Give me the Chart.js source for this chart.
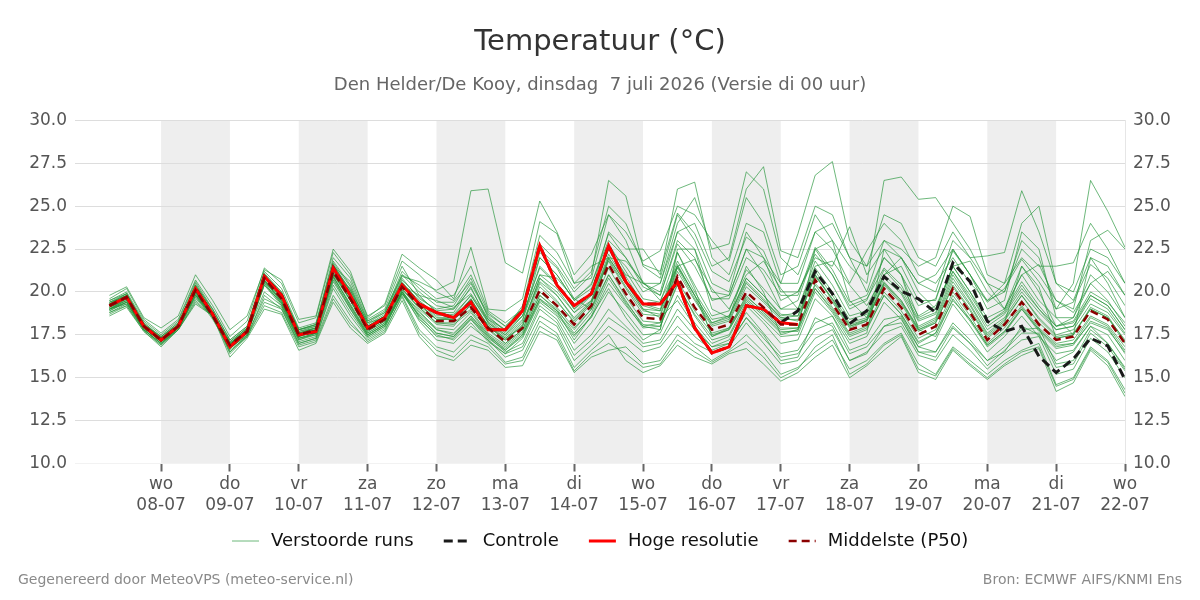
<!DOCTYPE html>
<html>
<head>
<meta charset="utf-8">
<title>Temperatuur</title>
<script src="https://cdn.jsdelivr.net/npm/chart.js@4.4.1/dist/chart.umd.min.js"></script>
<style>
  html, body { margin: 0; padding: 0; background: #fff; }
  #wrap { width: 1200px; height: 600px; }
</style>
</head>
<body>
<div id="wrap"><canvas id="tempChart" width="1200" height="600"></canvas></div>
<script>
/******************** DATA ******************/
// uren t.o.v. 08-07 00 uur, elke 6 uur vanaf 07-07 06 uur
const stepHours = [];
for (let h = -18; h <= 336; h += 6) stepHours.push(h);

const dayHours = [0, 24, 48, 72, 96, 120, 144, 168, 192, 216, 240, 264, 288, 312, 336];
const dayNames = ['wo', 'do', 'vr', 'za', 'zo', 'ma', 'di', 'wo', 'do', 'vr', 'za', 'zo', 'ma', 'di', 'wo'];
const dayDates = ['08-07', '09-07', '10-07', '11-07', '12-07', '13-07', '14-07', '15-07', '16-07', '17-07', '18-07', '19-07', '20-07', '21-07', '22-07'];
const shadedDays = [0, 48, 96, 144, 192, 240, 288];

const yTicks = [10, 12.5, 15, 17.5, 20, 22.5, 25, 27.5, 30];

const control = [19.2, 19.7, 18.0, 17.2, 18.0, 20.2, 18.7, 16.8, 17.7, 20.9,
  19.8, 17.5, 17.7, 21.4, 19.8, 17.9, 18.5, 20.4, 19.3, 18.8,
  18.5, 19.4, 17.8, 17.8, 18.9, 22.7, 20.4, 19.2, 19.9, 22.7,
  20.6, 19.3, 19.3, 20.6, 17.9, 16.45, 16.8, 19.2, 19.0, 18.2,
  18.9, 21.2, 19.9, 18.15, 18.9, 20.9, 20.05, 19.6, 18.8, 21.7,
  20.6, 18.3, 17.7, 18.0, 16.25, 15.3, 16.1, 17.3, 16.85, 14.9];

const hires = [19.2, 19.7, 18.0, 17.2, 18.0, 20.2, 18.7, 16.8, 17.7, 20.9,
  19.8, 17.5, 17.7, 21.4, 19.8, 17.9, 18.5, 20.4, 19.3, 18.8,
  18.5, 19.4, 17.8, 17.8, 18.9, 22.7, 20.4, 19.2, 19.9, 22.7,
  20.6, 19.3, 19.3, 20.6, 17.9, 16.45, 16.8, 19.2, 19.0, 18.2,
  18.1];

const median = [19.2, 19.7, 18.0, 17.2, 18.0, 20.1, 18.6, 16.9, 17.7, 20.8,
  19.6, 17.5, 17.8, 21.2, 19.6, 17.8, 18.4, 20.3, 19.2, 18.3,
  18.3, 19.1, 17.9, 17.1, 17.9, 20.1, 19.2, 18.1, 19.2, 21.6,
  19.9, 18.5, 18.4, 20.9, 19.1, 17.8, 18.1, 20.0, 19.1, 18.1,
  18.1, 20.7, 19.3, 17.8, 18.1, 20.2, 19.1, 17.5, 18.0, 20.2,
  18.8, 17.2, 18.1, 19.4, 18.1, 17.2, 17.4, 18.9, 18.4, 17.0];

const run01 = [19.5, 20.0, 18.3, 17.5, 18.3, 20.6, 19.0, 17.2, 18.0, 21.2,
  20.2, 17.9, 18.2, 21.8, 20.4, 18.3, 18.9, 21.0, 20.4, 19.6,
  19.8, 21.5, 18.9, 18.2, 19.0, 22.5, 21.5, 20.0, 21.0, 26.5,
  25.6, 21.5, 20.8, 24.5, 23.0, 20.5, 20.0, 23.5, 22.0, 19.5,
  20.0, 22.0, 21.5, 23.8, 21.0, 22.5, 22.0, 20.5, 21.0, 22.5,
  21.0, 19.5, 20.0, 23.0, 22.0, 19.0, 20.5, 26.5, 24.7, 22.6];
const run02 = [19.0, 19.6, 18.1, 17.4, 18.2, 20.3, 18.8, 17.0, 17.8, 21.0,
  20.0, 17.8, 18.1, 22.0, 20.8, 18.4, 19.0, 21.5, 19.8, 18.8,
  18.8, 20.3, 18.2, 17.5, 18.6, 21.5, 20.5, 19.0, 20.0, 23.5,
  22.5, 22.5, 21.0, 26.0, 26.4, 22.0, 21.0, 24.0, 23.5, 20.5,
  20.5, 23.5, 22.5, 20.5, 22.4, 24.0, 23.0, 21.0, 20.5, 22.0,
  20.5, 19.5, 20.5, 24.0, 25.0, 20.5, 19.5, 22.0, 21.5, 19.8];
const run03 = [19.4, 19.8, 18.0, 17.3, 18.1, 20.2, 18.7, 17.1, 17.9, 20.9,
  19.8, 17.7, 18.0, 21.6, 20.0, 18.0, 18.6, 20.8, 19.6, 19.0,
  19.2, 20.8, 18.5, 17.8, 19.2, 23.3, 22.3, 20.5, 20.8, 24.5,
  23.5, 21.8, 22.4, 25.0, 24.5, 23.0, 21.8, 25.5, 24.0, 21.0,
  21.5, 24.5, 23.0, 21.5, 20.5, 26.5, 26.7, 25.4, 25.5, 24.0,
  22.5, 20.5, 19.0, 21.5, 20.0, 18.0, 18.5, 21.0, 20.0, 18.5];
const run04 = [19.1, 19.5, 17.9, 17.2, 18.0, 20.0, 18.6, 16.9, 17.8, 20.7,
  19.4, 17.4, 17.7, 21.0, 19.7, 17.9, 18.5, 20.5, 19.5, 18.7,
  18.6, 19.8, 18.2, 17.4, 18.3, 22.0, 21.0, 19.5, 20.2, 22.5,
  21.5, 20.0, 20.5, 24.0, 25.5, 22.5, 22.8, 27.0, 26.0, 22.0,
  21.0, 23.5, 24.0, 22.0, 20.0, 23.0, 22.5, 21.5, 22.0, 25.0,
  24.4, 21.0, 20.5, 22.0, 21.0, 19.5, 19.0, 23.0, 23.6, 22.5];
const run05 = [19.3, 19.9, 18.2, 17.3, 18.1, 20.5, 18.9, 17.0, 17.7, 20.6,
  19.7, 17.6, 17.9, 21.4, 19.9, 18.0, 18.6, 20.6, 19.4, 18.5,
  18.5, 19.6, 18.0, 17.3, 18.0, 20.8, 20.0, 18.8, 19.5, 22.5,
  21.0, 20.5, 20.0, 23.5, 24.0, 21.5, 22.0, 26.0, 27.3, 22.4,
  22.0, 25.0, 24.5, 22.0, 21.5, 23.0, 22.0, 20.5, 20.0, 23.0,
  22.0, 22.1, 22.3, 25.9, 23.5, 20.5, 20.0, 22.5, 22.0, 20.5];
const run06 = [19.6, 20.2, 18.4, 17.6, 18.4, 20.7, 19.2, 17.4, 18.3, 21.4,
  20.5, 18.2, 18.5, 22.3, 21.0, 18.6, 19.2, 21.8, 21.0, 20.0,
  19.5, 21.0, 18.8, 18.0, 19.0, 22.0, 21.0, 19.5, 20.5, 23.0,
  22.0, 20.5, 20.5, 23.5, 22.5, 20.0, 19.8, 22.5, 22.0, 20.5,
  23.4, 26.8, 27.6, 23.0, 21.5, 24.5, 24.0, 22.0, 21.5, 23.5,
  22.0, 20.5, 20.0, 22.5, 21.5, 21.5, 21.7, 24.0, 22.5, 20.5];
const run07 = [19.0, 19.5, 17.8, 17.0, 17.9, 19.9, 18.5, 16.7, 17.5, 20.5,
  19.3, 17.2, 17.6, 20.9, 19.3, 17.6, 18.2, 20.0, 18.8, 17.9,
  17.8, 18.8, 17.5, 16.8, 17.6, 19.8, 19.0, 17.6, 18.8, 21.0,
  19.5, 18.0, 18.2, 21.5, 19.8, 17.5, 17.8, 19.5, 18.6, 17.6,
  17.8, 20.2, 19.0, 17.5, 17.9, 19.8, 18.7, 17.0, 17.6, 19.5,
  18.4, 16.9, 17.7, 19.0, 17.8, 16.9, 17.0, 18.2, 17.8, 16.5];
const run08 = [19.3, 19.8, 18.1, 17.3, 18.0, 20.2, 18.7, 16.8, 17.6, 20.9,
  19.7, 17.6, 17.9, 21.3, 19.5, 17.7, 18.3, 20.2, 19.0, 18.1,
  18.0, 19.3, 18.1, 17.3, 18.2, 20.6, 19.8, 18.5, 19.5, 22.0,
  20.5, 19.2, 18.9, 21.5, 19.8, 18.2, 18.5, 20.8, 19.8, 18.7,
  18.6, 21.2, 19.8, 18.2, 18.5, 20.8, 19.9, 18.0, 18.5, 21.0,
  19.5, 17.8, 18.5, 20.0, 18.8, 17.8, 18.0, 19.6, 19.0, 17.6];
const run09 = [18.9, 19.4, 17.9, 17.1, 17.9, 19.8, 18.6, 16.9, 17.7, 20.4,
  19.4, 17.3, 17.6, 20.8, 19.0, 17.4, 18.0, 19.9, 18.6, 17.6,
  17.4, 18.5, 17.3, 16.6, 17.4, 19.5, 18.8, 17.5, 18.5, 20.5,
  19.2, 18.0, 17.8, 22.3, 20.2, 17.4, 17.9, 19.7, 18.9, 17.9,
  17.9, 20.5, 19.4, 17.9, 18.3, 20.5, 19.5, 17.8, 18.3, 20.6,
  19.2, 17.5, 18.3, 19.8, 18.4, 17.4, 17.6, 19.0, 18.5, 17.2];
const run10 = [19.4, 19.7, 18.0, 17.2, 18.1, 20.0, 18.5, 16.8, 17.6, 20.6,
  19.5, 17.5, 17.8, 21.1, 19.7, 17.9, 18.6, 20.5, 19.4, 18.6,
  18.7, 19.8, 18.3, 17.5, 18.4, 21.0, 20.2, 18.8, 19.8, 22.8,
  21.2, 19.6, 19.4, 22.3, 20.4, 18.6, 18.9, 21.3, 20.2, 19.0,
  19.0, 21.8, 20.4, 18.6, 18.9, 21.3, 20.2, 18.4, 18.8, 21.5,
  20.0, 18.2, 18.9, 20.6, 19.2, 18.0, 18.3, 20.0, 19.4, 18.2];
const run11 = [19.1, 19.6, 17.9, 17.1, 17.9, 20.1, 18.6, 16.9, 17.8, 20.8,
  19.6, 17.4, 17.7, 21.2, 19.5, 17.8, 18.4, 20.3, 19.3, 18.4,
  18.4, 19.2, 17.9, 17.0, 17.8, 20.0, 19.1, 17.9, 19.0, 21.4,
  19.7, 18.3, 18.2, 20.7, 18.9, 17.6, 17.9, 19.8, 18.8, 17.8,
  17.9, 20.4, 19.1, 17.6, 18.0, 20.0, 18.9, 17.3, 17.8, 20.0,
  18.6, 17.0, 17.9, 19.2, 17.9, 17.0, 17.2, 18.6, 18.1, 16.8];
const run12 = [19.2, 19.8, 18.1, 17.3, 18.0, 20.3, 18.8, 17.0, 17.8, 21.0,
  19.9, 17.7, 17.9, 21.5, 20.1, 18.0, 18.6, 20.7, 19.7, 18.9,
  19.0, 20.2, 18.4, 17.6, 18.6, 21.4, 20.4, 19.0, 19.8, 22.6,
  20.9, 19.3, 19.0, 21.8, 20.0, 18.4, 18.6, 20.6, 19.6, 18.5,
  18.6, 20.9, 19.6, 18.0, 18.4, 20.6, 19.5, 17.9, 18.4, 20.8,
  19.3, 17.6, 18.4, 19.8, 18.5, 17.5, 17.8, 19.3, 18.8, 17.5];
const run13 = [19.0, 19.4, 17.8, 17.0, 17.8, 19.8, 18.4, 16.7, 17.5, 20.4,
  19.2, 17.2, 17.5, 20.7, 19.1, 17.5, 18.1, 19.9, 18.7, 17.8,
  17.6, 18.6, 17.4, 16.7, 17.5, 19.6, 18.7, 17.4, 18.6, 20.8,
  19.3, 17.9, 18.0, 20.5, 18.6, 17.2, 17.5, 19.4, 18.4, 17.4,
  17.5, 20.0, 18.8, 17.2, 17.6, 22.5, 21.0, 17.8, 17.4, 19.6,
  18.3, 16.8, 17.6, 19.0, 17.7, 16.7, 16.9, 18.3, 17.9, 16.4];
const run14 = [19.3, 19.6, 18.0, 17.2, 18.0, 20.0, 18.6, 16.8, 17.6, 20.7,
  19.5, 17.5, 17.8, 21.0, 19.5, 17.7, 18.3, 20.1, 19.1, 18.2,
  18.2, 19.0, 17.8, 17.0, 17.8, 20.3, 19.4, 18.3, 19.4, 21.8,
  20.2, 18.7, 18.6, 21.2, 19.5, 18.0, 18.3, 20.3, 19.4, 18.4,
  18.4, 21.0, 19.6, 18.1, 18.4, 20.4, 19.3, 17.7, 18.2, 20.4,
  19.0, 17.4, 18.2, 21.5, 20.3, 17.3, 17.5, 19.1, 18.6, 17.1];
const run15 = [19.2, 19.7, 18.1, 17.3, 18.1, 20.2, 18.7, 17.0, 17.8, 20.9,
  19.7, 17.6, 17.8, 21.3, 19.8, 17.9, 18.5, 20.4, 19.3, 18.4,
  18.5, 19.5, 18.0, 17.2, 18.0, 20.5, 19.5, 18.2, 19.3, 21.9,
  20.3, 18.9, 18.7, 21.4, 19.6, 18.1, 18.4, 20.5, 19.5, 18.5,
  18.3, 21.0, 19.5, 18.0, 18.3, 20.5, 19.4, 17.8, 18.2, 20.3,
  18.9, 17.3, 18.1, 19.5, 18.2, 17.3, 17.5, 19.0, 18.5, 17.0];
const run16 = [19.0, 19.5, 17.9, 17.2, 18.0, 20.0, 18.5, 16.9, 17.7, 20.7,
  19.5, 17.4, 17.7, 21.1, 19.5, 17.8, 18.4, 20.2, 19.1, 18.2,
  18.1, 18.9, 17.6, 16.9, 17.7, 19.8, 18.9, 17.8, 19.0, 21.0,
  19.4, 18.1, 18.0, 20.4, 18.7, 17.4, 17.8, 19.6, 18.7, 17.7,
  17.7, 20.2, 18.9, 17.4, 17.8, 19.8, 18.7, 17.1, 17.6, 19.8,
  18.4, 16.9, 17.7, 19.1, 17.8, 16.8, 17.0, 18.5, 18.0, 16.6];
const run17 = [18.6, 19.1, 17.7, 16.8, 17.8, 19.3, 18.6, 16.2, 17.3, 19.0,
  18.7, 16.6, 17.0, 19.4, 17.9, 17.0, 17.6, 19.5, 17.4, 16.3,
  16.0, 16.9, 16.6, 15.6, 15.7, 17.7, 17.2, 15.3, 16.2, 16.6,
  16.8, 15.8, 16.0, 17.5, 16.8, 16.0, 16.6, 17.5, 16.5, 15.2,
  15.6, 16.5, 17.2, 15.5, 16.0, 17.0, 17.6, 15.8, 15.2, 16.8,
  16.0, 15.2, 16.0, 16.6, 17.0, 14.6, 15.0, 16.8, 16.0, 14.3];
const run18 = [18.8, 19.3, 17.8, 16.9, 17.8, 19.5, 18.6, 16.4, 17.4, 19.4,
  19.0, 16.9, 17.2, 19.8, 18.3, 17.1, 17.7, 19.8, 17.8, 16.8,
  16.5, 17.5, 17.0, 15.9, 16.2, 18.3, 17.6, 15.6, 16.6, 17.5,
  16.0, 15.3, 15.7, 16.9, 16.2, 15.8, 16.4, 16.7, 15.8, 14.8,
  15.3, 16.2, 16.9, 15.0, 15.7, 16.6, 17.4, 15.3, 14.9, 16.6,
  15.7, 14.9, 15.7, 16.3, 16.7, 14.2, 14.7, 16.6, 15.7, 13.9];
const run19 = [18.7, 19.2, 17.7, 16.9, 17.9, 19.6, 18.7, 16.5, 17.5, 19.6,
  19.1, 17.0, 17.3, 20.2, 18.6, 17.3, 17.9, 20.0, 18.3, 17.2,
  17.0, 18.0, 17.2, 16.2, 16.6, 18.6, 18.0, 16.0, 16.9, 18.0,
  17.3, 16.5, 16.8, 18.0, 17.0, 16.5, 16.8, 18.2, 17.0, 15.8,
  16.0, 17.3, 17.8, 16.0, 16.5, 17.6, 18.0, 16.3, 16.0, 17.5,
  16.6, 15.5, 16.4, 17.2, 17.4, 15.2, 15.5, 17.3, 16.5, 15.0];
const run20 = [18.9, 19.4, 17.8, 17.0, 17.9, 19.7, 18.6, 16.6, 17.4, 19.8,
  19.0, 17.0, 17.3, 20.4, 18.8, 17.4, 18.0, 19.9, 18.4, 17.5,
  17.2, 18.2, 17.1, 16.4, 16.8, 19.0, 18.2, 16.3, 17.2, 18.5,
  17.8, 16.8, 17.0, 18.6, 17.4, 16.6, 17.0, 18.5, 17.3, 16.2,
  16.4, 17.8, 18.2, 16.4, 16.8, 18.0, 18.2, 16.5, 16.2, 17.9,
  17.0, 15.7, 16.6, 17.6, 17.6, 15.6, 15.8, 17.6, 16.8, 15.4];
const run21 = [18.8, 19.2, 17.8, 17.0, 17.8, 19.4, 18.6, 16.5, 17.4, 19.2,
  18.8, 16.8, 17.1, 19.6, 18.1, 17.2, 17.8, 19.7, 17.6, 16.6,
  16.2, 17.2, 16.8, 15.8, 16.0, 18.0, 17.4, 15.4, 16.4, 17.0,
  16.4, 15.6, 15.8, 17.2, 16.5, 15.9, 16.5, 17.1, 16.2, 15.0,
  15.5, 16.8, 17.5, 15.2, 15.8, 16.9, 17.5, 15.5, 15.1, 16.7,
  15.8, 15.0, 15.8, 16.5, 16.8, 14.5, 14.9, 16.7, 15.9, 14.1];
const run22 = [19.0, 19.3, 17.9, 17.1, 17.9, 19.8, 18.7, 16.7, 17.6, 20.0,
  19.2, 17.1, 17.4, 20.6, 19.0, 17.5, 18.1, 20.0, 18.6, 17.6,
  17.4, 18.4, 17.4, 16.5, 17.0, 19.2, 18.4, 16.6, 17.5, 19.0,
  18.0, 17.0, 17.2, 19.0, 17.8, 16.8, 17.2, 18.8, 17.6, 16.4,
  16.6, 18.2, 18.6, 16.6, 17.0, 18.4, 18.6, 16.8, 16.5, 18.2,
  17.2, 16.0, 16.8, 17.8, 17.9, 15.8, 16.0, 17.8, 17.0, 15.6];
const run23 = [19.5, 19.9, 18.2, 17.4, 18.1, 20.4, 19.0, 17.2, 18.0, 21.0,
  19.9, 17.8, 18.1, 21.5, 20.6, 18.3, 18.8, 20.9, 20.6, 20.1,
  20.6, 25.9, 26.0, 21.7, 21.1, 25.3, 23.5, 21.0, 22.2, 24.5,
  23.0, 20.5, 19.8, 23.0, 22.0, 19.5, 19.8, 22.5, 21.0, 19.0,
  19.5, 22.5, 21.0, 19.0, 19.5, 22.0, 21.0, 18.5, 19.0, 21.5,
  20.0, 18.5, 19.0, 21.0, 19.5, 18.5, 18.5, 20.5, 19.5, 18.0];
const run24 = [19.1, 19.6, 18.0, 17.2, 18.0, 20.0, 18.7, 16.9, 17.7, 20.6,
  19.4, 17.3, 17.6, 20.9, 19.2, 17.6, 18.2, 20.0, 18.9, 17.8,
  17.5, 18.6, 17.5, 16.6, 17.5, 19.6, 18.9, 17.2, 18.6, 20.2,
  18.5, 17.2, 17.8, 22.5, 22.5, 19.0, 18.5, 21.5, 20.0, 17.5,
  17.8, 22.5, 23.0, 19.5, 18.5, 21.0, 21.5, 19.5, 19.5, 22.5,
  21.0, 19.0, 19.5, 23.5, 22.5, 18.5, 17.5, 22.0, 20.5, 18.5];
const run25 = [19.8, 20.3, 18.5, 17.9, 18.6, 21.0, 19.5, 17.8, 18.6, 21.3,
  20.7, 18.4, 18.6, 22.5, 21.2, 18.5, 19.3, 22.2, 21.4, 20.7,
  19.6, 22.6, 19.0, 18.9, 19.6, 24.1, 23.4, 20.5, 21.5, 22.0,
  20.5, 19.0, 18.5, 19.5, 18.0, 16.8, 17.0, 18.5, 17.5, 16.0,
  16.2, 18.5, 18.0, 16.0, 16.4, 18.0, 18.5, 16.5, 16.5, 18.0,
  17.0, 16.0, 16.5, 18.0, 17.5, 16.0, 16.5, 18.0, 17.0, 15.5];
const run26 = [19.4, 19.9, 18.1, 17.3, 18.1, 20.4, 18.8, 17.0, 17.9, 21.1,
  20.0, 17.8, 18.0, 21.7, 20.3, 18.1, 18.7, 21.0, 20.0, 19.2,
  19.0, 20.5, 18.6, 17.7, 18.8, 22.3, 21.4, 19.6, 20.4, 23.4,
  22.0, 20.3, 19.8, 22.8, 21.5, 19.6, 19.6, 22.0, 21.3, 19.8,
  19.8, 22.6, 21.3, 19.4, 19.8, 22.0, 21.0, 19.2, 19.6, 22.4,
  21.0, 19.4, 20.2, 21.9, 20.6, 19.0, 19.4, 21.6, 20.8, 19.2];
const run27 = [19.2, 19.6, 18.0, 17.1, 17.9, 20.1, 18.6, 16.8, 17.7, 20.8,
  19.8, 17.6, 17.9, 21.0, 20.2, 18.2, 18.5, 20.4, 19.8, 19.5,
  19.1, 19.9, 18.4, 17.8, 18.6, 21.0, 20.8, 19.6, 19.0, 22.0,
  21.8, 20.6, 19.5, 21.5, 21.9, 20.2, 19.0, 21.0, 21.8, 20.2,
  19.0, 21.5, 21.8, 20.4, 19.2, 21.0, 22.0, 20.0, 19.0, 21.5,
  21.8, 20.0, 19.0, 21.0, 21.6, 19.5, 18.8, 20.5, 21.2, 19.8];
const run28 = [19.0, 19.4, 17.9, 17.1, 17.9, 19.9, 18.5, 16.8, 17.6, 20.5,
  19.3, 17.3, 17.5, 20.9, 19.2, 17.5, 18.1, 20.1, 18.5, 17.4,
  17.3, 18.4, 17.2, 16.4, 17.3, 19.4, 18.6, 17.0, 18.2, 20.0,
  18.8, 17.5, 17.6, 19.8, 18.2, 17.0, 17.4, 19.2, 18.2, 17.0,
  17.2, 19.6, 18.6, 17.0, 17.4, 19.4, 18.4, 16.8, 17.2, 19.3,
  18.0, 16.5, 17.4, 18.6, 17.4, 16.4, 16.6, 18.0, 17.5, 16.0];
const run29 = [19.3, 19.8, 18.1, 17.4, 18.2, 20.3, 18.8, 17.1, 17.9, 21.0,
  19.9, 17.8, 18.1, 21.6, 20.1, 18.2, 18.8, 21.2, 20.2, 19.4,
  19.4, 20.6, 18.7, 18.0, 19.0, 22.8, 21.8, 20.2, 21.2, 25.0,
  24.0, 21.6, 21.2, 24.6, 23.4, 21.2, 20.6, 23.2, 22.4, 20.0,
  20.0, 22.2, 21.0, 19.2, 19.6, 21.4, 20.4, 18.6, 19.2, 21.2,
  19.8, 18.2, 18.8, 20.4, 19.0, 17.8, 18.0, 19.8, 19.2, 17.8];
const run30 = [19.2, 19.7, 18.0, 17.2, 18.0, 20.2, 18.7, 16.9, 17.7, 20.9,
  19.7, 17.5, 17.8, 21.3, 19.7, 17.8, 18.4, 20.4, 19.2, 18.4,
  18.4, 19.6, 18.0, 17.2, 18.1, 20.8, 19.8, 18.4, 19.4, 22.2,
  20.6, 19.0, 18.9, 21.6, 19.8, 18.2, 18.6, 20.8, 19.8, 18.6,
  18.8, 21.4, 20.0, 18.4, 18.7, 21.0, 20.0, 18.3, 18.7, 21.2,
  19.6, 18.0, 18.7, 20.2, 19.0, 18.0, 18.2, 19.8, 19.2, 17.8];

const ensembleRuns = [run01, run02, run03, run04, run05, run06, run07, run08, run09, run10,
  run11, run12, run13, run14, run15, run16, run17, run18, run19, run20,
  run21, run22, run23, run24, run25, run26, run27, run28, run29, run30];

const legendOrder = ['Verstoorde runs', 'Controle', 'Hoge resolutie', 'Middelste (P50)'];

/******************** HELPERS ******************/
const FONT = "'DejaVu Sans', 'Noto Sans', sans-serif";
const RUN_COLOR = 'rgba(40, 150, 60, 0.68)';

function toPoints(values) {
  return values.map((v, i) => ({ x: stepHours[i], y: v }));
}

/******************** PLUGINS ******************/
const dayBands = {
  id: 'dayBands',
  beforeDraw(chart) {
    const { ctx, chartArea, scales } = chart;
    ctx.save();
    ctx.fillStyle = '#eeeeee';
    shadedDays.forEach(start => {
      const x1 = scales.x.getPixelForValue(start);
      const x2 = scales.x.getPixelForValue(start + 24);
      ctx.fillRect(x1, chartArea.top, x2 - x1, chartArea.bottom - chartArea.top);
    });
    ctx.restore();
  }
};

// legenda + voetregel zelf tekenen (vaste afstanden zoals het origineel)
const legendAndFooter = {
  id: 'legendAndFooter',
  afterDraw(chart) {
    const ctx = chart.ctx;
    ctx.save();

    ctx.font = '18px ' + FONT;
    ctx.textBaseline = 'middle';
    ctx.textAlign = 'left';
    const swatch = 27, gapText = 12, gapItem = 30, y = 541;
    const items = legendOrder.map(name => chart.data.datasets.find(d => d.label === name));
    const widths = items.map(ds => swatch + gapText + ctx.measureText(ds.label).width);
    const total = widths.reduce((a, b) => a + b, 0) + gapItem * (items.length - 1);
    let x = Math.round(600 - total / 2);
    items.forEach((ds, i) => {
      ctx.strokeStyle = ds.borderColor;
      ctx.lineWidth = ds.borderWidth;
      ctx.setLineDash(ds.borderDash || []);
      ctx.beginPath();
      ctx.moveTo(x, y);
      ctx.lineTo(x + swatch, y);
      ctx.stroke();
      ctx.setLineDash([]);
      ctx.fillStyle = '#111111';
      ctx.fillText(ds.label, x + swatch + gapText, y);
      x += widths[i] + gapItem;
    });

    ctx.font = '14px ' + FONT;
    ctx.fillStyle = '#8a8a8a';
    ctx.fillText('Gegenereerd door MeteoVPS (meteo-service.nl)', 18, 580);
    ctx.textAlign = 'right';
    ctx.fillText('Bron: ECMWF AIFS/KNMI Ens', 1182, 580);
    ctx.restore();
  }
};

/******************** DATASETS ******************/
const datasets = ensembleRuns.map((run, idx) => ({
  label: idx === 0 ? 'Verstoorde runs' : '',
  data: toPoints(run),
  borderColor: RUN_COLOR,
  borderWidth: 1,
  pointRadius: 0,
  order: 3
}));

datasets.push({
  label: 'Controle',
  data: toPoints(control),
  borderColor: '#1a1a1a',
  borderWidth: 3,
  borderDash: [9, 5],
  pointRadius: 0,
  order: 2
});

datasets.push({
  label: 'Hoge resolutie',
  data: toPoints(hires),
  borderColor: '#ff0000',
  borderWidth: 3,
  pointRadius: 0,
  order: 1
});

datasets.push({
  label: 'Middelste (P50)',
  data: toPoints(median),
  borderColor: '#8b0000',
  borderWidth: 2.5,
  borderDash: [8, 5],
  pointRadius: 0,
  order: 0
});

/******************** CHART ******************/
new Chart(document.getElementById('tempChart'), {
  type: 'line',
  data: { datasets },
  plugins: [dayBands, legendAndFooter],
  options: {
    responsive: false,
    animation: false,
    layout: { padding: { top: 0, bottom: 82, left: 0, right: 0 } },
    elements: { line: { tension: 0 } },
    plugins: {
      tooltip: { enabled: false },
      legend: { display: false },
      title: {
        display: true,
        text: 'Temperatuur (°C)',
        color: '#333333',
        font: { family: FONT, size: 29, weight: 'normal' },
        padding: { top: 25, bottom: 15 }
      },
      subtitle: {
        display: true,
        text: 'Den Helder/De Kooy, dinsdag  7 juli 2026 (Versie di 00 uur)',
        color: '#666666',
        font: { family: FONT, size: 18 },
        padding: { top: 0, bottom: 24 }
      }
    },
    scales: {
      x: {
        type: 'linear',
        min: -30,
        max: 336,
        afterBuildTicks: scale => {
          scale.ticks = dayHours.map(v => ({ value: v }));
        },
        ticks: {
          autoSkip: false,
          maxRotation: 0,
          color: '#555555',
          padding: 2,
          font: { family: FONT, size: 17, lineHeight: 1.25 },
          callback: (value) => {
            const i = dayHours.indexOf(value);
            return i >= 0 ? [dayNames[i], dayDates[i]] : '';
          }
        },
        grid: {
          drawOnChartArea: false,
          drawTicks: true,
          tickLength: 8,
          tickWidth: 2,
          tickColor: '#666666'
        },
        border: { display: false }
      },
      y: {
        position: 'left',
        min: 10,
        max: 30,
        afterBuildTicks: scale => {
          scale.ticks = yTicks.map(v => ({ value: v }));
        },
        afterFit: scale => { scale.width = 75; },
        ticks: {
          color: '#555555',
          padding: 8,
          font: { family: FONT, size: 17 },
          callback: v => v.toFixed(1)
        },
        grid: {
          color: ctx => ctx.tick && ctx.tick.value === 10 ? '#f2f2f2' : '#dddddd',
          drawTicks: false
        },
        border: { display: false }
      },
      y2: {
        position: 'right',
        min: 10,
        max: 30,
        afterBuildTicks: scale => {
          scale.ticks = yTicks.map(v => ({ value: v }));
        },
        afterFit: scale => { scale.width = 75; },
        ticks: {
          color: '#555555',
          padding: 8,
          font: { family: FONT, size: 17 },
          callback: v => v.toFixed(1)
        },
        grid: { drawOnChartArea: false, drawTicks: false },
        border: { display: true, color: '#e6e6e6' }
      }
    }
  }
});
</script>
</body>
</html>
